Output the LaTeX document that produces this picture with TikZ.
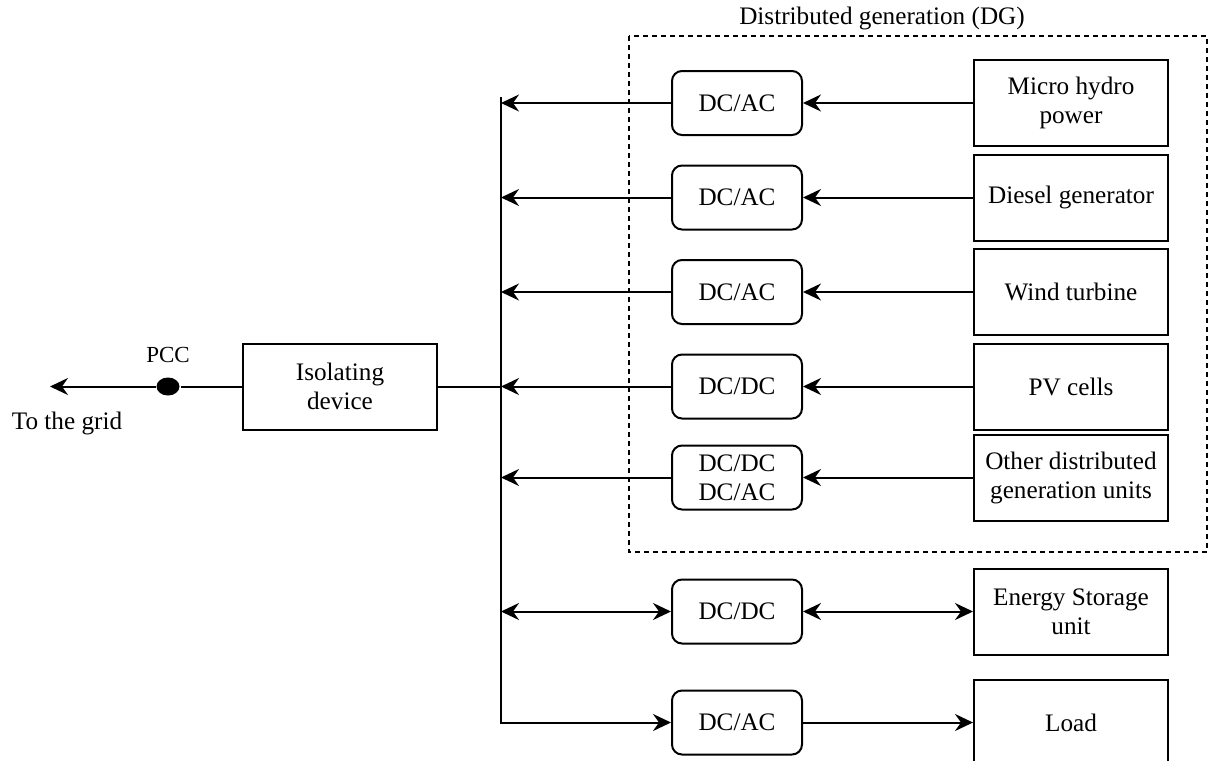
\documentclass[tikz,border=0pt]{standalone}
\usepackage{fontspec}
\setmainfont{Liberation Serif}
\usetikzlibrary{arrows.meta,shapes.geometric}

\tikzstyle{conv-block}=[draw,rounded corners=5pt,minimum width=65pt,minimum height=32pt,align=center,inner sep=1pt]
\tikzstyle{src-block}=[draw,minimum width=97pt,minimum height=43pt,align=center,inner sep=1pt]
\tikzstyle{pcc-dot}=[ellipse,fill=black,minimum width=11.5pt,minimum height=9pt,inner sep=0pt]

\begin{document}
\begin{tikzpicture}[x=0.5pt,y=0.5pt,line width=1pt,
    font=\fontsize{12.6pt}{14.5pt}\selectfont,
    >={Stealth[length=9pt,width=8.5pt,inset=3pt]},node distance=47.25pt]
    \useasboundingbox (0,0) rectangle (1209,-760);
    % converters
    \node[conv-block] (c1) at (737,-103) {DC/AC};
    \node[conv-block] (c2) [below of=c1] {DC/AC};
    \node[conv-block] (c3) [below of=c2] {DC/AC};
    \node[conv-block] (c4) [below of=c3] {DC/DC};
    \node[conv-block] (c5) [below of=c4, node distance=45.5pt] {DC/DC\\DC/AC};
    \node[conv-block] (c6) [below of=c5, node distance=67pt]   {DC/DC};
    \node[conv-block] (c7) [below of=c6, node distance=55.5pt] {DC/AC};
    % sources, storage and load
    \node[src-block] (hydro)  [right of=c1, node distance=167pt] {Micro hydro\\power};
    \node[src-block] (diesel) [right of=c2, node distance=167pt] {Diesel generator};
    \node[src-block] (wind)   [right of=c3, node distance=167pt] {Wind turbine};
    \node[src-block] (pv)     [right of=c4, node distance=167pt] {PV cells};
    \node[src-block] (other)  [right of=c5, node distance=167pt] {Other distributed\\generation units};
    \node[src-block] (ess)    [right of=c6, node distance=167pt] {Energy Storage\\unit};
    \node[src-block] (load)   [right of=c7, node distance=167pt] {Load};
    % grid side
    \node[src-block] (iso) [left of=c4, node distance=198.5pt] {Isolating\\device};
    \node[pcc-dot]   (pcc) [left of=iso, node distance=86pt] {};
    \node (pcclbl) [above of=pcc, node distance=16pt] {\fontsize{11.5pt}{13pt}\selectfont PCC};
    \coordinate (grid) at ([xshift=-59pt]pcc.center);
    \node (gridlbl) at (67,-423) {To the grid};
    \coordinate (bus) at (501,-97);
    % DG area
    \draw[line width=0.7pt,dash pattern=on 2.5pt off 2pt] (629,-36) rectangle (1207,-552);
    \node (dglbl) at (882,-18) {Distributed generation (DG)};
    % connections
    \draw[->] (bus) |- (c7.west);
    \draw[->] (hydro)  to (c1);
    \draw[->] (diesel) to (c2);
    \draw[->] (wind)   to (c3);
    \draw[->] (pv)     to (c4);
    \draw[->] (other)  to (c5);
    \draw[->] (c1) to (c1 -| bus);
    \draw[->] (c2) to (c2 -| bus);
    \draw[->] (c3) to (c3 -| bus);
    \draw[->] (c4) to (c4 -| bus);
    \draw[->] (c5) to (c5 -| bus);
    \draw[<->] (c6 -| bus) to (c6);
    \draw[<->] (c6) to (ess);
    \draw[->] (c7) to (load);
    \draw (iso) to (iso -| bus);
    \draw (iso) to (pcc);
    \draw[->] (pcc) to (grid);
\end{tikzpicture}
\end{document}
